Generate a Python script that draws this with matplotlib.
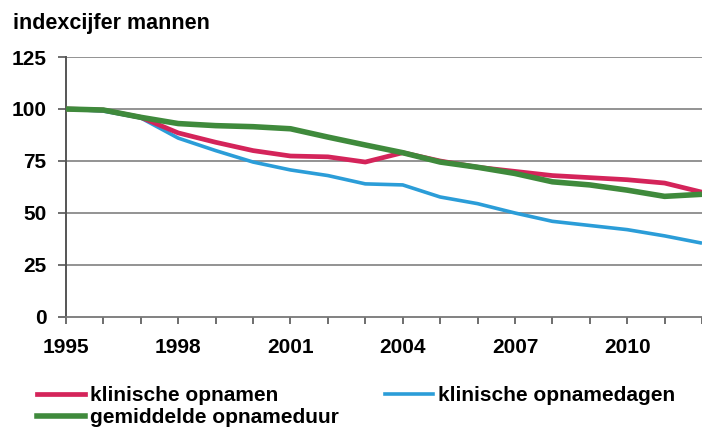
import matplotlib.pyplot as plt
from matplotlib.lines import Line2D

plt.rcParams['font.family'] = ['Liberation Sans', 'DejaVu Sans']
plt.rcParams['font.weight'] = 'bold'

years = list(range(1995, 2013))
opnamen = [100, 99.5, 96, 88.5, 84, 80, 77.4, 77, 74.5, 79, 75, 72, 70, 68, 67, 66, 64.4, 60]
opnamedagen = [100, 99, 95.7, 86, 80, 74.5, 70.7, 68, 64, 63.5, 57.7, 54.5, 50, 46, 44, 42, 39, 35.5]
opnameduur = [100, 99.5, 96, 93, 92, 91.5, 90.5, 86.5, 82.7, 79, 74.5, 72, 69, 65, 63.5, 61, 58, 59]

red = '#d4245a'
blue = '#2b9dd8'
green = '#3f8a3c'

fig = plt.figure(figsize=(7.02, 4.38), dpi=100)
ax = fig.add_axes([66 / 702, 121 / 438, 636 / 702, 260 / 438])

for v in [25, 50, 75, 100, 125]:
    ax.axhline(v, color='#8a8a8a', lw=1.3, zorder=1)

ax.plot(years, opnamedagen, color=blue, lw=2.6, zorder=3, solid_capstyle='butt')
ax.plot(years, opnamen, color=red, lw=3.4, zorder=4, solid_capstyle='butt')
ax.plot(years, opnameduur, color=green, lw=4.0, zorder=5, solid_capstyle='butt')

ax.set_xlim(1995, 1995 + 636 / 37.7)
ax.set_ylim(0, 125)
ax.set_yticks([0, 25, 50, 75, 100, 125])
ax.set_xticks(years, minor=True)
ax.set_xticks([1995, 1998, 2001, 2004, 2007, 2010])
ax.tick_params(axis='y', length=6, width=1.2, color='#555555', labelsize=15, pad=8)
ax.tick_params(axis='x', which='both', length=5, width=1.2, color='#555555', direction='out')
ax.tick_params(axis='x', which='major', labelsize=15, pad=10)

for s in ['top', 'right']:
    ax.spines[s].set_visible(False)
ax.spines['left'].set_color('#555555')
ax.spines['bottom'].set_color('#777777')
ax.spines['left'].set_linewidth(1.4)
ax.spines['bottom'].set_linewidth(1.3)

fig.text(13 / 702, 1 - 29 / 438, 'indexcijfer mannen', fontsize=15.5, fontweight='bold', va='baseline')

h_red = Line2D([], [], color=red, lw=3.4)
h_green = Line2D([], [], color=green, lw=4.0)
h_blue = Line2D([], [], color=blue, lw=2.6)

# legend: two blocks, placed like the original
fig.legend([h_red, h_green], ['klinische opnamen', 'gemiddelde opnameduur'],
           loc='upper left', bbox_to_anchor=(31 / 702, 1 - 380 / 438), frameon=False,
           fontsize=15, handlelength=2.3, handletextpad=0.25, labelspacing=0.15,
           borderaxespad=0, borderpad=0.3)
fig.legend([h_blue], ['klinische opnamedagen'],
           loc='upper left', bbox_to_anchor=(379 / 702, 1 - 380 / 438), frameon=False,
           fontsize=15, handlelength=2.3, handletextpad=0.25,
           borderaxespad=0, borderpad=0.3)

fig.savefig('out.png', dpi=100)
